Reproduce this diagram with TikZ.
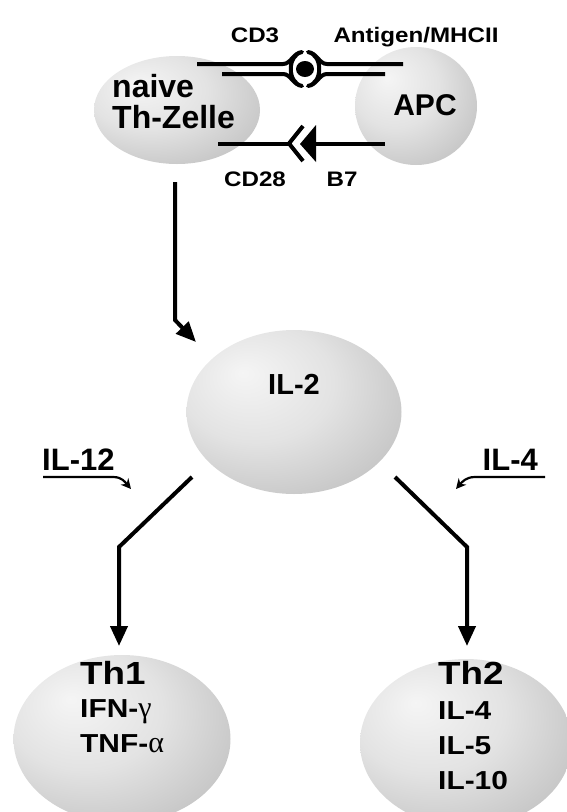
\documentclass[tikz,border=0pt]{standalone}
\usepackage{fontspec}
\setmainfont{Liberation Sans}
\newfontfamily\widefont{Liberation Sans}[FakeStretch=1.15]
\newfontfamily\grk{Liberation Serif}
\usetikzlibrary{shapes.geometric,arrows.meta}
\pgfdeclareradialshading{cellshade}{\pgfpoint{-12bp}{12bp}}{%
  color(0bp)=(black!4); color(18bp)=(black!11); color(34bp)=(black!22);
  color(48bp)=(black!36); color(68bp)=(black!52)}
\tikzset{ cell/.style = { ellipse
                        , shading   = cellshade
                        , inner sep = 0pt
                        },
          txt/.style  = { inner sep = 0pt
                        , font      = \bfseries\fontsize{#1}{#1}\selectfont
                        },
          wtxt/.style = { inner sep = 0pt
                        , font      = \widefont\bfseries\fontsize{#1}{#1}\selectfont
                        },
          rec/.style  = { line width = 4pt
                        , line join  = round
                        },
          arr/.style  = { line width = 4pt
                        , -{Triangle[length=20pt,width=17pt]}
                        },
          sarr/.style = { line width = 2.2pt
                        , -{Stealth[length=10pt,width=10pt]}
                        },
          dot/.style  = { ellipse
                        , fill
                        , inner sep      = 0pt
                        , minimum width  = 18pt
                        , minimum height = 16pt
                        }
        }

\begin{document}
\begin{tikzpicture}[x=1pt,y=-1pt]
  \useasboundingbox (0,0) rectangle (566,812);
  % cells
  \node[cell, minimum width=166pt, minimum height=108pt] (thz) at (177,110) {};
  \node[cell, minimum width=122pt, minimum height=118pt] (apc) at (416,106) {};
  \node[cell, minimum width=215pt, minimum height=164pt] (il2) at (294,412) {};
  \node[cell, minimum width=217pt, minimum height=168pt] (th1) at (122,739) {};
  \node[cell, minimum width=212pt, minimum height=168pt] (th2) at (466,743) {};

  \node[txt=32, anchor=north west, align=left,
        font=\bfseries\fontsize{32}{31}\selectfont] (thzt) at (112,74) {naive\\Th-Zelle};
  \node[txt=30, anchor=base] (apct) at (425,115) {APC};
  \node[txt=29, anchor=base] (il2t) at (294,394) {IL-2};

  % receptors
  \node[wtxt=21, anchor=base] (cd3)   at (255,42)  {CD3};
  \node[wtxt=21, anchor=base] (agmhc) at (416,42)  {Antigen/MHCII};
  \node[wtxt=21, anchor=base] (cd28)  at (255,186) {CD28};
  \node[wtxt=21, anchor=base] (b7)    at (342,186) {B7};

  \draw[rec] (197,64) -- (283,64) .. controls (291,64) and (293,53) .. (302,52)
             .. controls (287,55) and (287,83) .. (302,86)
             .. controls (293,85) and (291,74) .. (283,74) -- (222,74);
  \draw[rec] (403,64) -- (327,64) .. controls (319,64) and (317,53) .. (308,52)
             .. controls (323,55) and (323,83) .. (308,86)
             .. controls (317,85) and (319,74) .. (327,74) -- (385,74);
  \node[dot] (mhc) at (305,69) {};

  \draw[rec] (218,144) -- (289,144);
  \draw[rec] (303,126) -- (289,143.5) -- (303,161);
  \fill (300,144) -- (316,125) -- (316,162) -- cycle;
  \draw[rec] (316,144) -- (385,144);

  % activation
  \coordinate (a0) at (175,182);
  \coordinate (a1) at (175,320);
  \coordinate (a2) at (196,342);
  \draw[arr] (a0) -- (a1) -- (a2);

  % Th1 / Th2 branches
  \coordinate (l0) at (192,477);
  \coordinate (l1) at (119,547);
  \coordinate (l2) at (119,646);
  \coordinate (r0) at (395,477);
  \coordinate (r1) at (467,547);
  \coordinate (r2) at (467,646);
  \draw[arr] (l0) -- (l1) -- (l2);
  \draw[arr] (r0) -- (r1) -- (r2);

  \node[txt=31, anchor=base west] (il12) at (42,470)  {IL-12};
  \node[txt=31, anchor=base east] (il4)  at (538,470) {IL-4};
  \coordinate (u12) at (43,477);
  \coordinate (u4)  at (545,477);
  \draw[sarr] (u12) -- ++(70,0) .. controls +(9,0) and +(-6,-7) .. ++(18,12);
  \draw[sarr] (u4) -- ++(-70,0) .. controls +(-9,0) and +(6,-7) .. ++(-19,12);

  \node[wtxt=32, anchor=base west] (th1t) at (80,684)  {Th1};
  \node[wtxt=32, anchor=base west] (th2t) at (438,684) {Th2};
  \node[wtxt=26, anchor=north west, align=left,
        font=\widefont\bfseries\fontsize{26}{35}\selectfont] (th1c) at (80,699)
        {IFN-{\grk\mdseries\fontsize{30}{35}\selectfont γ}\\TNF-{\grk\mdseries\fontsize{30}{35}\selectfont α}};
  \node[wtxt=26, anchor=north west, align=left,
        font=\widefont\bfseries\fontsize{26}{35}\selectfont] (th2c) at (438,701)
        {IL-4\\IL-5\\IL-10};
\end{tikzpicture}
\end{document}
